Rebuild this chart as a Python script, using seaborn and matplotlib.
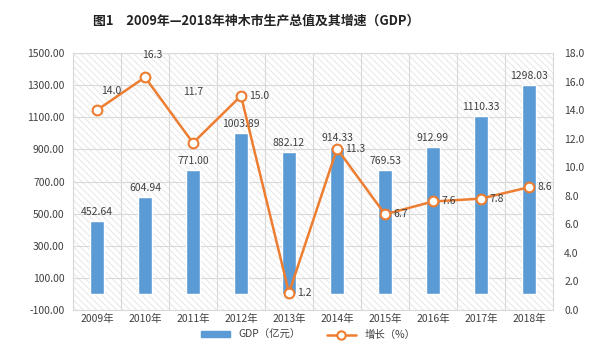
import numpy as np
import pandas as pd
import matplotlib
matplotlib.use("Agg")
import matplotlib.pyplot as plt
import seaborn as sns
from matplotlib.patches import Rectangle, Patch
from matplotlib.lines import Line2D

years = ["2009年", "2010年", "2011年", "2012年", "2013年", "2014年", "2015年", "2016年", "2017年", "2018年"]
gdp = [452.64, 604.94, 771.00, 1003.89, 882.12, 914.33, 769.53, 912.99, 1110.33, 1298.03]
growth = [14.0, 16.3, 11.7, 15.0, 1.2, 11.3, 6.7, 7.6, 7.8, 8.6]
left_ticks = [-100, 100, 300, 500, 700, 900, 1100, 1300, 1500]
right_ticks = [0, 2, 4, 6, 8, 10, 12, 14, 16, 18]

sns.set_theme(style="white")
plt.rcParams['font.family'] = ['Noto Sans CJK SC', 'DejaVu Sans']
plt.rcParams['hatch.linewidth'] = 0.6

df = pd.DataFrame({"year": years, "gdp": gdp, "growth": growth, "pos": np.arange(len(years))})

BLUE = "#5B9BD5"
ORANGE = "#ED7D31"
TXT = "#404040"

fig = plt.figure(figsize=(6.16, 3.51), dpi=100)
ax = fig.add_axes([73/616, 1-310/351, (553-73)/616, (310-53)/351])
ax.set_facecolor("white")
ax.add_patch(Rectangle((0, 0), 1, 1, transform=ax.transAxes, facecolor="white",
                       edgecolor="#e3e3e3", hatch="\\\\\\\\\\", linewidth=0, zorder=0))

sns.barplot(data=df, x="year", y="gdp", color=BLUE, width=0.28, ax=ax, zorder=3,
            saturation=1)
ax.set_ylim(-100, 1500)
ax.set_xlim(-0.5, len(years) - 0.5)
ax.set_yticks(left_ticks)
ax.set_yticklabels([f"{v:.2f}" for v in left_ticks], fontsize=7.5, color=TXT)
ax.set_xlabel("")
ax.set_ylabel("")
ax.tick_params(axis="x", labelsize=7.5, colors=TXT, length=0, pad=3)
ax.tick_params(axis="y", length=0, pad=6)
for v in left_ticks:
    ax.axhline(v, color="#d9d9d9", lw=0.8, zorder=1)
for i in range(len(years) + 1):
    ax.axvline(i - 0.5, color="#d9d9d9", lw=0.8, zorder=1)
for s in ax.spines.values():
    s.set_color("#d9d9d9")
    s.set_linewidth(0.8)

for i, v in enumerate(gdp):
    ax.text(i, v + 25, f"{v:.2f}", ha="center", va="bottom", fontsize=7.5, color=TXT, zorder=6)

ax2 = ax.twinx()
sns.lineplot(data=df, x="pos", y="growth", color=ORANGE, lw=1.8, marker="o",
             markersize=7, markerfacecolor="white", markeredgecolor=ORANGE,
             markeredgewidth=1.5, ax=ax2, zorder=5)
ax2.set_ylim(0, 18)
ax2.set_xlim(-0.5, len(years) - 0.5)
ax2.set_yticks(right_ticks)
ax2.set_yticklabels([f"{v:.1f}" for v in right_ticks], fontsize=7.5, color=TXT)
ax2.tick_params(axis="y", length=0, pad=8)
ax2.set_xlabel("")
ax2.set_ylabel("")
for s in ax2.spines.values():
    s.set_visible(False)

offsets = {0: (0.3, 1.35, "center"), 1: (0.15, 1.55, "center"), 2: (0.0, 3.6, "center")}
for i, v in enumerate(growth):
    if i in offsets:
        dx, dy, ha = offsets[i]
        ax2.text(i + dx, v + dy, f"{v:.1f}", ha=ha, va="center", fontsize=7.5, color=TXT, zorder=7)
    else:
        ax2.text(i + 0.17, v, f"{v:.1f}", ha="left", va="center", fontsize=7.5, color=TXT, zorder=7)

fig.text(256/616, 1-21/351, "图1　2009年—2018年神木市生产总值及其增速（GDP）", ha="center", va="center",
         fontsize=9.3, fontweight="bold", color="#222222")

handles = [Patch(facecolor=BLUE, edgecolor=BLUE),
           Line2D([0], [0], color=ORANGE, lw=1.8, marker="o", markersize=6,
                  markerfacecolor="white", markeredgecolor=ORANGE, markeredgewidth=1.5)]
fig.legend(handles, ["GDP（亿元）", "增长（%）"], loc="center", bbox_to_anchor=(0.5, 1-335/351),
           ncol=2, frameon=False, fontsize=7.5, handlelength=2.8, columnspacing=2.5,
           handleheight=0.5, labelcolor=TXT)

fig.savefig("out.png", dpi=100)
